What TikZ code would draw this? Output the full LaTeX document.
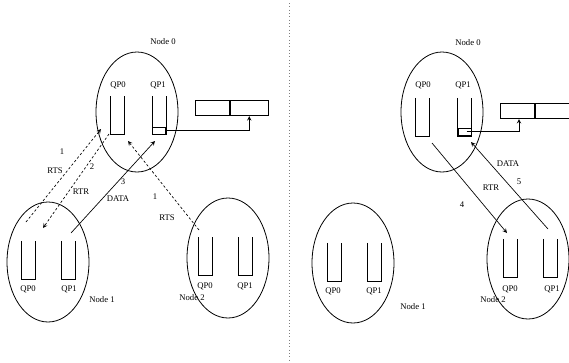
\documentclass[tikz,border=0pt]{standalone}
\usepackage{fontspec}
\setmainfont{Liberation Serif}
\usetikzlibrary{shapes.geometric, arrows, positioning, calc}

\tikzset{
  host/.style={draw, ellipse, minimum width=61.5pt, minimum height=90pt, inner sep=0pt},
  queue/.style={minimum width=9.75pt, minimum height=28pt, inner sep=0pt},
  slot/.style={draw, minimum height=11.5pt, inner sep=0pt},
  lbl/.style={font=\fontsize{6.5}{7}\selectfont, inner sep=0pt},
  msg/.style={->, >=stealth, line width=0.5pt},
  ctrl/.style={msg, dash pattern=on 1.8pt off 1.6pt},
}

\begin{document}
\begin{tikzpicture}[x=0.75pt, y=-0.75pt, line width=0.6pt]
    \useasboundingbox (0,0) rectangle (569,362);

    % divider
    \draw[gray, dotted, line width=0.5pt] (289,3) -- (289,362);

    %% left half
    \node[host] (n0) at (137,112) {};
    \node[host] (n1) at (48,262) {};
    \node[host] (n2) at (228,258) {};
    \node[lbl] at (163,42) {Node 0};
    \node[lbl] at (102,300) {Node 1};
    \node[lbl] at (192,298) {Node 2};

    \node[queue] (a00) at (117,115.5) {};
    \node[queue] (a01) at (159,115.5) {};
    \node[queue] (a10) at (28.5,260) {};
    \node[queue] (a11) at (68.5,260) {};
    \node[queue] (a20) at (205.5,256.5) {};
    \node[queue] (a21) at (245.5,256.5) {};
    \node[lbl] at (118,85) {QP0};
    \node[lbl] at (158,85) {QP1};
    \node[lbl] at (28,289) {QP0};
    \node[lbl] at (69,289) {QP1};
    \node[lbl] at (205,286) {QP0};
    \node[lbl] at (245,286) {QP1};

    \node[draw, minimum width=9.75pt, minimum height=5.25pt, inner sep=0pt, anchor=south] (s0) at (a01.south) {};
    \node[slot, minimum width=25.5pt, anchor=north west] (b00) at (195,100) {};
    \node[slot, minimum width=28.5pt, anchor=north west] (b01) at (b00.north east) {};
    \draw[msg] (s0.east) -| ($(b01.south west)!0.5!(b01.south east)$);

    \coordinate (p1) at (26,222);  \coordinate (q1) at (101,129);
    \coordinate (p2) at (109,134); \coordinate (q2) at (43,228);
    \coordinate (p3) at (71,233);  \coordinate (q3) at (155,141);
    \coordinate (p4) at (199,230); \coordinate (q4) at (128,141);
    \draw[ctrl] (p1) -- (q1);
    \draw[ctrl] (p2) -- (q2);
    \draw[msg] (p3) -- (q3);
    \draw[ctrl] (p4) -- (q4);
    \node[lbl] at (62,152) {1};
    \node[lbl] at (55,171) {RTS};
    \node[lbl] at (92,167) {2};
    \node[lbl] at (81,192) {RTR};
    \node[lbl] at (123,182) {3};
    \node[lbl] at (118,199) {DATA};
    \node[lbl] at (155,197) {1};
    \node[lbl] at (167,218) {RTS};

    %% right half
    \node[host] (m0) at (442,112) {};
    \node[host] (m1) at (353,263) {};
    \node[host] (m2) at (528,259) {};
    \node[lbl] at (468,43) {Node 0};
    \node[lbl] at (413,307) {Node 1};
    \node[lbl] at (493,300) {Node 2};

    \node[queue] (c00) at (422.5,117) {};
    \node[queue] (c01) at (464.5,117) {};
    \node[queue] (c10) at (334,262) {};
    \node[queue] (c11) at (374,262) {};
    \node[queue] (c20) at (510,258) {};
    \node[queue] (c21) at (550.5,258) {};
    \node[lbl] at (423,85) {QP0};
    \node[lbl] at (463,85) {QP1};
    \node[lbl] at (333,291) {QP0};
    \node[lbl] at (374,291) {QP1};
    \node[lbl] at (510,289) {QP0};
    \node[lbl] at (552,289) {QP1};

    \node[draw, minimum width=9.75pt, minimum height=5.25pt, inner sep=0pt, anchor=south] (s1) at (c01.south) {};
    \node[slot, minimum width=25.5pt, anchor=north west] (b10) at (500,103) {};
    \node[slot, minimum width=30pt, anchor=north west] (b11) at (b10.north east) {};
    \draw[msg] ($(s1.center)+(2,-1)$) -| (519,119);

    \coordinate (p5) at (432,143); \coordinate (q5) at (507,233);
    \coordinate (p6) at (548,229); \coordinate (q6) at (471,142);
    \draw[msg] (p5) -- (q5);
    \draw[msg] (p6) -- (q6);
    \node[lbl] at (462,205) {4};
    \node[lbl] at (491,188) {RTR};
    \node[lbl] at (519,182) {5};
    \node[lbl] at (508,164) {DATA};

    % open-top queues
    \foreach \q in {a00,a01,a10,a11,a20,a21,c00,c01,c10,c11,c20,c21}
        \draw (\q.north west) |- (\q.south east) -- (\q.north east);
\end{tikzpicture}
\end{document}
